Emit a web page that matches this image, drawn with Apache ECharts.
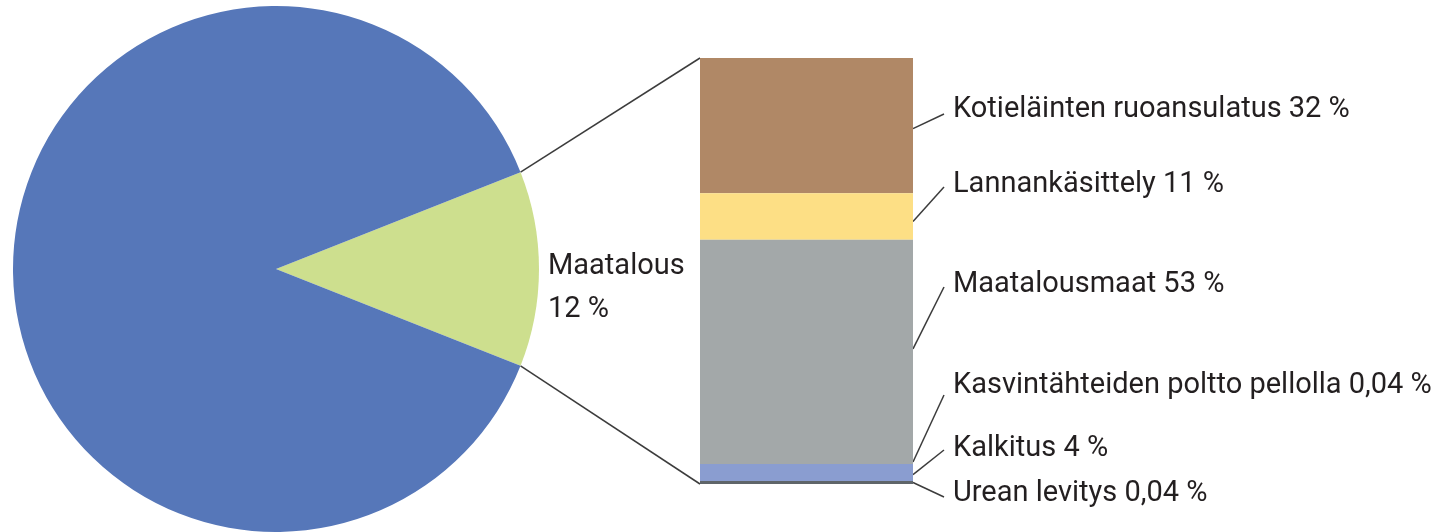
<!DOCTYPE html>
<html>
<head>
<meta charset="utf-8">
<script src="https://cdn.jsdelivr.net/npm/echarts@6/dist/echarts.min.js"></script>
<style>
  html, body { margin: 0; padding: 0; background: #fff; }
  #chart { width: 1437px; height: 532px; }
</style>
</head>
<body>
<div id="chart"></div>
<script>
  // pie data
  var pieNames = ['Maatalous', 'Muut'];
  var pieValues = [12, 88];
  var pieLabels = ['Maatalous\n12 %', ''];

  // stacked bar data (top to bottom)
  var barNames = ['Kotieläinten ruoansulatus', 'Lannankäsittely', 'Maatalousmaat',
    'Kasvintähteiden poltto pellolla', 'Kalkitus', 'Urean levitys'];
  var barValues = [32, 11, 53, 0.04, 4, 0.04];
  var barLabels = ['Kotieläinten ruoansulatus 32 %', 'Lannankäsittely 11 %', 'Maatalousmaat 53 %',
    'Kasvintähteiden poltto pellolla 0,04 %', 'Kalkitus 4 %', 'Urean levitys 0,04 %'];

  // layout / style
  var FONT = "Roboto, 'DejaVu Sans Condensed', sans-serif";
  var FS = 29;
  var pieColors = ['#cddf8e', '#5677b9'];
  var barColors = ['#b08866', '#fddf85', '#a3a8a9', '#7f8fb8', '#8a9dd0', '#5f6569'];
  var barMin = [0, 0, 0, 0, 0, 3];
  var pieCenter = [276, 269];
  var pieRadius = 263;
  var barLeft = 700, barRight = 913, barTop = 58, barBottom = 484;
  var labelX = 953;
  var labelY = [110, 185, 285, 386, 449, 494];
  var leaderDy = [3, 5, -3, -2, 2, 0];   // start offset from segment centre
  var leaderEndDy = [4, 2, 2, 9, 1, 3];  // end offset from label centre
  var leaderEndX = 944;
  var lineColor = '#3c3c3c';

  var chart = echarts.init(document.getElementById('chart'));

  var pieTotal = pieValues.reduce(function (a, b) { return a + b; }, 0);
  var barTotal = barValues.reduce(function (a, b) { return a + b; }, 0);
  var half = pieValues[0] / pieTotal * Math.PI;
  var px = pieCenter[0] + pieRadius * Math.cos(half);
  var pyTop = pieCenter[1] - pieRadius * Math.sin(half);
  var pyBot = pieCenter[1] + pieRadius * Math.sin(half);

  var series = [{
    type: 'pie',
    center: pieCenter,
    radius: pieRadius,
    startAngle: pieValues[0] / pieTotal * 180,
    clockwise: true,
    silent: true,
    animation: false,
    itemStyle: { borderWidth: 0 },
    label: {
      show: true,
      color: '#231f20',
      fontFamily: FONT,
      fontSize: FS,
      lineHeight: 43,
      formatter: function (p) { return pieLabels[p.dataIndex]; }
    },
    labelLine: { show: false },
    labelLayout: function (p) {
      if (p.dataIndex !== 0) return {};
      return { x: 548, y: 288, align: 'left', verticalAlign: 'middle' };
    },
    data: pieNames.map(function (n, i) {
      return { name: n, value: pieValues[i], itemStyle: { color: pieColors[i] } };
    })
  }];

  barNames.forEach(function (n, i) {
    series.push({
      name: n,
      type: 'bar',
      stack: 'total',
      barWidth: '100%',
      barMinHeight: barMin[i],
      clip: false,
      silent: true,
      animation: false,
      itemStyle: { color: barColors[i] },
      label: {
        show: true,
        position: 'right',
        color: '#231f20',
        fontFamily: FONT,
        fontSize: FS,
        formatter: barLabels[i]
      },
      labelLayout: function () {
        return { x: labelX, y: labelY[i], align: 'left', verticalAlign: 'middle' };
      },
      data: [barValues[i]]
    });
  });

  // value 99.04 (top of the last strip) sits at y=481
  var gridH = (481 - barTop) * barTotal / (barTotal - barValues[barValues.length - 1]);

  chart.setOption({
    backgroundColor: '#fff',
    animation: false,
    grid: { left: barLeft, width: barRight - barLeft, top: barTop, height: gridH },
    xAxis: { type: 'category', data: [''], show: false },
    yAxis: { type: 'value', min: 0, max: barTotal, inverse: true, show: false },
    series: series
  });

  // connectors and leader lines
  var graphics = [
    { type: 'line', silent: true, shape: { x1: px, y1: pyTop, x2: barLeft, y2: barTop },
      style: { stroke: lineColor, lineWidth: 1.5 } },
    { type: 'line', silent: true, shape: { x1: px, y1: pyBot, x2: barLeft, y2: barBottom },
      style: { stroke: lineColor, lineWidth: 1.5 } }
  ];
  var cum = 0;
  barValues.forEach(function (v, i) {
    var y0 = chart.convertToPixel({ gridIndex: 0 }, ['', cum])[1];
    var y1 = chart.convertToPixel({ gridIndex: 0 }, ['', cum + v])[1];
    if (y1 - y0 < barMin[i]) y1 = y0 + barMin[i];
    cum += v;
    var sy = (y0 + y1) / 2 + leaderDy[i];
    graphics.push({
      type: 'line', silent: true,
      shape: { x1: barRight, y1: sy, x2: leaderEndX, y2: labelY[i] + leaderEndDy[i] },
      style: { stroke: lineColor, lineWidth: 1.5 }
    });
  });
  chart.setOption({ graphic: graphics });
</script>
</body>
</html>
